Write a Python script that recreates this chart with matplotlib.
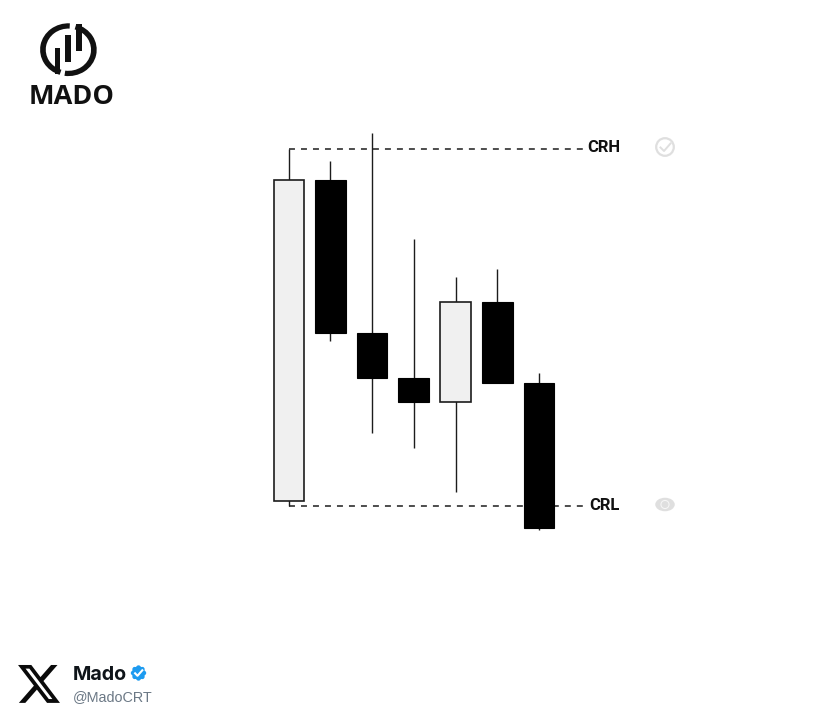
import numpy as np
import matplotlib
matplotlib.use('Agg')
import matplotlib.pyplot as plt
from matplotlib.patches import Circle, Ellipse, PathPatch, Rectangle, Wedge
from matplotlib.path import Path
from matplotlib.transforms import Affine2D

# candle levels (image y, so smaller is higher)
highs = [149, 161, 133, 239, 277, 269, 373]
lows = [506, 341, 433, 448, 492, 383, 530]
body_tops = [180, 180, 333, 378, 302, 302, 383]
body_bottoms = [501, 333, 378, 402, 402, 383, 528]
is_up = [True, False, False, False, True, False, False]

crh_level = 149
crl_level = 506
level_end = 7.05

INK = '#1c1c1c'
UP_FILL = '#f0f0f0'
ICON = '#dfdfdf'

fig = plt.figure(figsize=(8.24, 7.2), dpi=100, facecolor='white')
ax = fig.add_axes([0, 0, 1, 1])
ax.set_xlim(-288.7 / 41.7, (824 - 288.7) / 41.7)
ax.set_ylim(720, 0)
ax.axis('off')

# overlay in pixels for the branding and icons
ov = fig.add_axes([0, 0, 1, 1])
ov.set_xlim(0, 824)
ov.set_ylim(720, 0)
ov.axis('off')
ov.patch.set_alpha(0)

ax.plot([0, level_end], [crh_level, crh_level], color=INK, lw=1.1, ls=(0, (3.9, 3.95)), zorder=1)
ax.plot([0, level_end], [crl_level, crl_level], color=INK, lw=1.1, ls=(0, (3.9, 3.95)), zorder=1)

for i in range(len(highs)):
    ax.vlines(i, highs[i], lows[i], color=INK, lw=1.0, zorder=2)
    if is_up[i]:
        ax.bar(i, body_bottoms[i] - body_tops[i], bottom=body_tops[i], width=0.72,
               color=UP_FILL, edgecolor=INK, linewidth=1.2, zorder=3)
    else:
        ax.bar(i, body_bottoms[i] - body_tops[i], bottom=body_tops[i], width=0.735,
               color='black', edgecolor='black', linewidth=0.8, zorder=3)

ov.text(587, 148, 'CRH', fontsize=12, fontweight='bold', family='Roboto', color='#111111',
        ha='left', va='center')
ov.text(589, 505, 'CRL', fontsize=12, fontweight='bold', family='Roboto', color='#111111',
        ha='left', va='center')

# check icon
ov.add_patch(Circle((665, 147), 8.8, fill=False, ec=ICON, lw=1.6))
ov.plot([660.5, 664, 670.5], [147.5, 151, 143.5], color=ICON, lw=1.4)
# eye icon
ov.add_patch(Ellipse((665, 504.5), 19.5, 13.5, fc=ICON, ec='none'))
ov.add_patch(Circle((665, 504.5), 4.6, fc='#f6f6f6', ec='none'))
ov.add_patch(Circle((665, 504.5), 3.5, fc=ICON, ec='none'))

# MADO logo, ring is a little wider than tall
ring = Affine2D().scale(28.3, 26.4).translate(68.4, 49.7) + ov.transData
ov.add_patch(Wedge((0, 0), 1, 108, 273, width=0.2, fc='#111111', ec='none', transform=ring))
ov.add_patch(Wedge((0, 0), 1, -74, 98, width=0.2, fc='#111111', ec='none', transform=ring))
ov.add_patch(Rectangle((55, 48), 5.5, 26, fc='#111111', ec='none'))
ov.add_patch(Rectangle((65, 35), 6, 27, fc='#111111', ec='none'))
ov.add_patch(Rectangle((76, 24), 6, 27, fc='#111111', ec='none'))
ov.text(71.5, 96.5, 'MADO', fontsize=19.5, fontweight='bold', family='Open Sans', color='#111111',
        ha='center', va='center')

# X logo, outline traced on a 24 unit box
v = [(18.244, 2.25), (21.552, 2.25), (14.325, 10.51), (22.827, 21.75), (16.17, 21.75),
     (10.956, 14.933), (4.99, 21.75), (1.68, 21.75), (9.41, 12.915), (1.254, 2.25),
     (8.08, 2.25), (12.793, 8.481), (18.244, 2.25),
     (17.083, 19.77), (18.916, 19.77), (7.084, 4.126), (5.117, 4.126), (17.083, 19.77)]
codes = [Path.MOVETO] + [Path.LINETO] * 11 + [Path.CLOSEPOLY] + [Path.MOVETO] + [Path.LINETO] * 3 + [Path.CLOSEPOLY]
to_px = Affine2D().scale(42 / 21.6).translate(15.6, 660.6)
ov.add_patch(PathPatch(Path(v, codes).transformed(to_px), fc='#0a0a0a', ec='none'))

ov.text(73, 675, 'Mado', fontsize=14.2, fontweight='bold', family='Inter', color='#0f1419',
        ha='left', va='center')
ov.text(72.5, 697, '@MadoCRT', fontsize=10.4, family='Liberation Sans', color='#6b7885',
        ha='left', va='center')

# verified badge
ov.add_patch(Circle((138.5, 673), 6.6, fc='#1d9bf0', ec='none'))
for a in np.arange(8) * np.pi / 4:
    ov.add_patch(Circle((138.5 + 5.4 * np.cos(a), 673 + 5.4 * np.sin(a)), 2.3, fc='#1d9bf0', ec='none'))
ov.plot([135.1, 137.5, 142.3], [673.3, 675.8, 670.3], color='white', lw=1.5)

fig.savefig('out.png', dpi=100, facecolor='white')
